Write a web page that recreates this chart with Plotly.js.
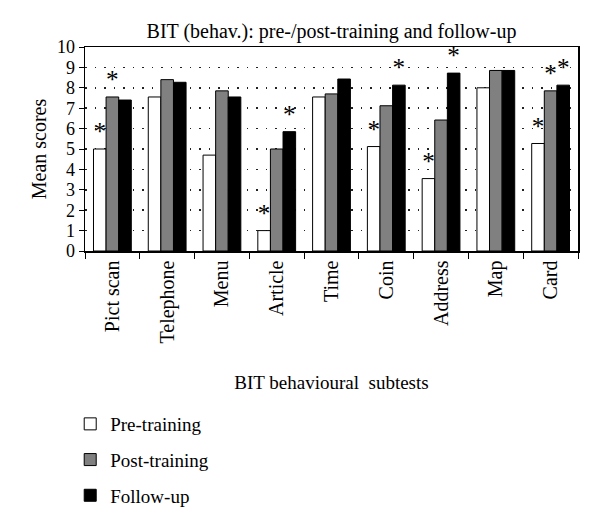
<!DOCTYPE html>
<html>
<head>
<meta charset="utf-8">
<script src="https://cdn.plot.ly/plotly-3.0.1.min.js"></script>
<style>
  html, body { margin: 0; padding: 0; background: #fff; }
  #chart { width: 600px; height: 524px; }
</style>
</head>
<body>
<div id="chart"></div>
<script>
// ============ DATA ============
const SUBTESTS = ['Pict scan', 'Telephone', 'Menu', 'Article', 'Time', 'Coin', 'Address', 'Map', 'Card'];
const PRE_TRAINING  = [5.0, 7.55, 4.7, 1.0, 7.55, 5.12, 3.55, 8.0, 5.27];
const POST_TRAINING = [7.55, 8.4, 7.85, 5.0, 7.7, 7.12, 6.42, 8.85, 7.85];
const FOLLOW_UP     = [7.4, 8.27, 7.55, 5.85, 8.43, 8.13, 8.72, 8.85, 8.13];
// significance markers per series
const PRE_SIG    = ['*', '', '', '*', '', '*', '*', '', '*'];
const POST_SIG   = ['*', '', '', '', '', '', '', '', '*'];
const FOLLOW_SIG = ['', '', '', '*', '', '*', '*', '', '*'];

const SERIF = '"Liberation Serif", "DejaVu Serif", serif';

function barTrace(name, values, sig, color){
  const black = sig.map(() => '#000000');
  return {
    type: 'bar', name: name, x: SUBTESTS, y: values,
    text: sig, textposition: 'outside', cliponaxis: false,
    textfont: { family: SERIF, size: 26, color: black },
    outsidetextfont: { family: SERIF, size: 26, color: black },
    marker: { color: color, line: { color: '#000', width: 1 } },
    legendgroup: name, hoverinfo: 'x+y'
  };
}

const traces = [
  barTrace('Pre-training', PRE_TRAINING, PRE_SIG, '#ffffff'),
  barTrace('Post-training', POST_TRAINING, POST_SIG, '#808080'),
  barTrace('Follow-up', FOLLOW_UP, FOLLOW_SIG, '#000000')
];

const layout = {
  width: 600, height: 524,
  paper_bgcolor: '#fff', plot_bgcolor: '#fff',
  font: { family: SERIF, size: 19, color: '#000' },
  margin: { l: 85, r: 22, t: 47, b: 273, autoexpand: false },
  title: {
    text: 'BIT (behav.): pre-/post-training and follow-up',
    font: { family: SERIF, size: 20 },
    x: 0.5, xref: 'paper', xanchor: 'center', y: 0.94, yanchor: 'middle'
  },
  barmode: 'group', bargap: 0.31, bargroupgap: 0,
  showlegend: true,
  legend: {
    x: -0.03, xanchor: 'left', y: -0.755, yanchor: 'top',
    font: { family: SERIF, size: 19 },
    traceorder: 'grouped', tracegroupgap: 8,
    bgcolor: 'rgba(0,0,0,0)'
  },
  xaxis: {
    type: 'category', tickangle: -90, tickson: 'boundaries',
    ticks: 'outside', ticklen: 6, tickcolor: '#000',
    showline: true, linecolor: '#000', linewidth: 1.5, mirror: true,
    showgrid: false, automargin: false,
    tickfont: { family: SERIF, size: 20 },
    title: { text: 'BIT behavioural  subtests', font: { family: SERIF, size: 19 }, standoff: 33 }
  },
  yaxis: {
    range: [0, 10], dtick: 1, tick0: 0,
    ticks: 'outside', ticklen: 5, tickcolor: '#000',
    showline: true, linecolor: '#000', linewidth: 1.5, mirror: true,
    showgrid: true, gridcolor: '#222', gridwidth: 1.5, griddash: '1.5px,8px',
    zeroline: false, automargin: false,
    tickfont: { family: SERIF, size: 18 },
    title: { text: 'Mean scores', font: { family: SERIF, size: 20 }, standoff: 5 }
  }
};

Plotly.newPlot('chart', traces, layout, { displayModeBar: false, staticPlot: true });
</script>
</body>
</html>
